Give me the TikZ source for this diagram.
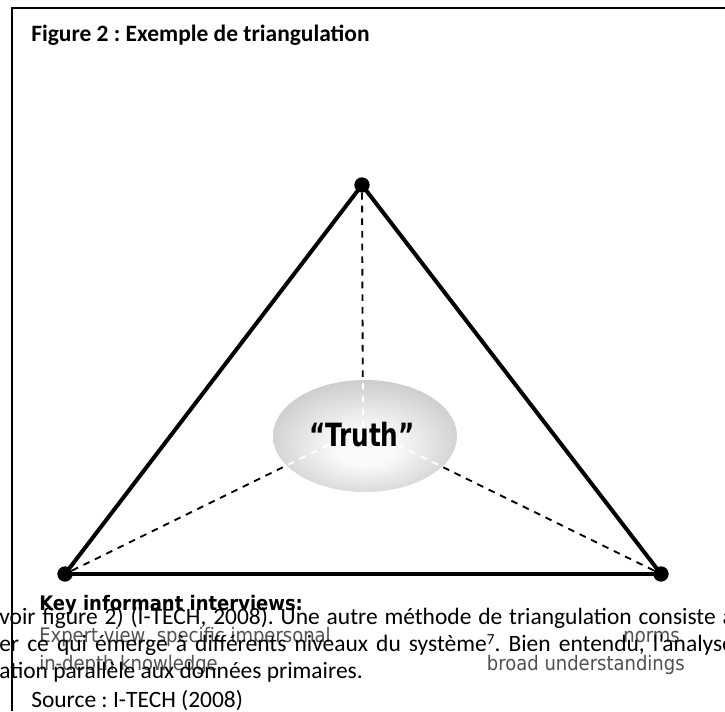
\documentclass[tikz,border=0pt]{standalone}
\usepackage{fontspec}
\setmainfont{Carlito}
\newfontfamily\condfont{DejaVu Sans Condensed}
\usetikzlibrary{shapes.geometric}

\definecolor{labelgray}{RGB}{80,80,80}
\definecolor{eggedge}{RGB}{150,150,150}
\definecolor{eggcenter}{RGB}{250,250,250}
\pgfdeclareradialshading{eggshade}{\pgfpoint{0bp}{-6bp}}{color(0bp)=(eggcenter); color(8bp)=(eggcenter); color(52bp)=(eggedge)}
\frenchspacing

\begin{document}
\begin{tikzpicture}[x=0.75pt, y=-0.75pt,
    vertex/.style={circle, fill=black, inner sep=0pt, minimum size=11.5pt},
    side/.style={line width=3pt, line cap=round},
    spoke/.style={line width=1.4pt, dash pattern=on 5pt off 4.5pt},
    bodytext/.style={anchor=base west, inner sep=0pt, font=\fontsize{17.6}{20}\selectfont},
    sidelabel/.style={inner sep=0pt, text=labelgray, font=\condfont\fontsize{15}{18}\selectfont}]
                \fill[white] (0,0) rectangle (725,711);
                \useasboundingbox (0,0) rectangle (725,711);

                % Frame and title
                \draw[line width=1pt] (12,711) -- (12,8) -- (725,8);
                \node[anchor=base west, inner sep=0pt, font=\bfseries\fontsize{17.6}{20}\selectfont] (title) at (31,41.5) {Figure 2 : Exemple de triangulation};

                % Corners
                \node[vertex] (top) at (362,185) {};
                \node[vertex] (left) at (65,574) {};
                \node[vertex] (right) at (661,574) {};
                \coordinate (meet) at (363,428);

                % Dashed spokes
                \draw[spoke] (top) -- (meet);
                \draw[spoke] (left) -- (meet);
                \draw[spoke] (right) -- (meet);

                % Triangle
                \draw[side] (top) -- (left);
                \draw[side] (left) -- (right);
                \draw[side] (right) -- (top);

                % Truth
                \node[ellipse, inner sep=0pt, minimum width=138pt, minimum height=84pt, shading=eggshade] (egg) at (365,436) {};
                \begin{scope}
                    \clip (egg.center) ellipse [x radius=69pt, y radius=42pt];
                    \draw[spoke, white] (top) -- (meet);
                    \draw[spoke, white] (left) -- (meet);
                    \draw[spoke, white] (right) -- (meet);
                \end{scope}
                \node[inner sep=0pt, font=\condfont\bfseries\fontsize{24}{28}\selectfont] (truth) at (362,434.5) {\scalebox{0.86}[1]{“Truth”}};

                % Labels
                \node[sidelabel, anchor=base west] (expert) at (39,642) {Expert view, specific impersonal};
                \node[sidelabel, anchor=base west] (indepth) at (39,670) {in-depth knowledge};
                \node[sidelabel, anchor=base east] (norms) at (680,642) {norms};
                \node[sidelabel, anchor=base east] (broad) at (685,670) {broad understandings};
                \node[anchor=base west, inner sep=0pt, font=\condfont\bfseries\fontsize{15}{18}\selectfont] (keyhead) at (39,610) {Key informant interviews:};

                % Body text
                \node[bodytext] (bodyA) at (-1,624) {\makebox[551pt][s]{voir figure 2) (I-TECH, 2008). Une autre méthode de triangulation consiste à}};
                \node[bodytext] (bodyB) at (-1,651) {\makebox[551pt][s]{er ce qui émerge à différents niveaux du système\raisebox{0.6ex}{\fontsize{11.5}{12}\selectfont 7}. Bien entendu, l’analyse}};
                \node[bodytext] (bodyC) at (-1,678) {ation parallèle aux données primaires.};
                \node[bodytext] (source) at (31,707) {Source : I-TECH (2008)};
\end{tikzpicture}
\end{document}
